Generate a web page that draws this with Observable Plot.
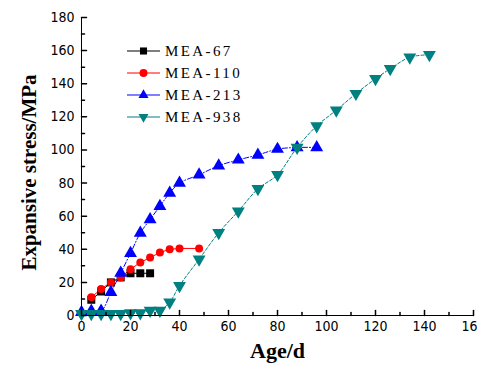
<!DOCTYPE html>
<html>
<head>
<meta charset="utf-8">
<script src="https://cdn.jsdelivr.net/npm/d3@7"></script>
<script src="https://cdn.jsdelivr.net/npm/@observablehq/plot@0.6"></script>
<style>
  html, body { margin: 0; padding: 0; background: #fff; }
  #wrap { position: relative; width: 477px; height: 371px; overflow: hidden; }
  #legend { position: absolute; left: 127px; top: 40px; font-family: "Liberation Serif", "Times New Roman", serif; font-size: 15px; letter-spacing: 2.4px; color: #000; }
  .row { display: flex; align-items: center; height: 22px; }
  .row svg { display: block; }
  .row span { margin-left: 5px; }
</style>
</head>
<body>
<div id="wrap"></div>
<script>
// ---- data ----
const seriesNames = ["MEA-67", "MEA-110", "MEA-213", "MEA-938"];
const seriesColors = ["#000000", "#ff0000", "#0000ff", "#008080"];
const seriesSymbols = ["square", "circle", "triangle", "triangle"];
const seriesRotate = [0, 0, 0, 180];
const seriesDash = [null, null, "5,2,1,2", "3,2"];

const days67 = [4, 8, 12, 16, 20, 24, 28];
const mea67 = [9.5, 14.5, 20, 23, 25.5, 25.5, 25.5];

const days110 = [4, 8, 12, 16, 20, 24, 28, 32, 36, 40, 48];
const mea110 = [11, 16, 20, 23, 28, 32, 35, 38, 40, 40.5, 40.5];

const days213 = [0, 4, 8, 12, 16, 20, 24, 28, 32, 36, 40, 48, 56, 64, 72, 80, 88, 96];
const mea213 = [2, 2.7, 2.7, 14, 25.7, 37.6, 49.8, 58, 66, 74, 80, 85, 90.5, 94, 97, 100.5, 101.5, 101.5];

const days938 = [0, 4, 8, 12, 16, 20, 24, 28, 32, 36, 40, 48, 56, 64, 72, 80, 88, 96, 104, 112, 120, 126, 134, 142];
const mea938 = [1, 1, 1, 1, 1, 1.5, 1.5, 3, 3, 8, 18, 34, 50, 63, 76.5, 85, 101.5, 114.5, 124, 134, 143, 149, 156, 157.5];

const xTicks = [0, 20, 40, 60, 80, 100, 120, 140, 160];
const xMinor = [10, 30, 50, 70, 90, 110, 130, 150];
const yTicks = [0, 20, 40, 60, 80, 100, 120, 140, 160, 180];
const yMinor = [10, 30, 50, 70, 90, 110, 130, 150, 170];
const xLabel = "Age/d";
const yLabel = "Expansive stress/MPa";

const allDays = [days67, days110, days213, days938];
const allVals = [mea67, mea110, mea213, mea938];
const data = [];
seriesNames.forEach((name, i) => {
  allDays[i].forEach((d, j) => data.push({series: name, idx: i, day: d, value: allVals[i][j]}));
});

const tickShape = {draw(ctx, l) { ctx.moveTo(0, 0); ctx.lineTo(0, -l); }};
const sizes = [4.5, 4, 4.8, 4.8];

const marks = [];
// lines
seriesNames.forEach((name, i) => {
  marks.push(Plot.line(data.filter(d => d.idx === i), {
    x: "day", y: "value", stroke: seriesColors[i], strokeWidth: 1,
    strokeDasharray: seriesDash[i], curve: i >= 2 ? "catmull-rom" : "linear"
  }));
});
// markers
seriesNames.forEach((name, i) => {
  marks.push(Plot.dot(data.filter(d => d.idx === i), {
    x: "day", y: "value", symbol: seriesSymbols[i], r: sizes[i],
    fill: seriesColors[i], stroke: "none", rotate: seriesRotate[i]
  }));
});
// axis lines
marks.push(Plot.ruleX([0], {stroke: "#000", strokeWidth: 1}));
marks.push(Plot.ruleY([0], {stroke: "#000", strokeWidth: 1}));
// inward ticks
marks.push(Plot.vector(xTicks, {x: d => d, y: 0, length: 5, rotate: 0, anchor: "start", shape: tickShape, stroke: "#000"}));
marks.push(Plot.vector(xMinor, {x: d => d, y: 0, length: 3, rotate: 0, anchor: "start", shape: tickShape, stroke: "#000"}));
marks.push(Plot.vector(yTicks, {x: 0, y: d => d, length: 5, rotate: 90, anchor: "start", shape: tickShape, stroke: "#000"}));
marks.push(Plot.vector(yMinor, {x: 0, y: d => d, length: 3, rotate: 90, anchor: "start", shape: tickShape, stroke: "#000"}));
// tick labels
marks.push(Plot.axisX({ticks: xTicks, tickSize: 0, tickPadding: 6, label: null, tickFormat: d => String(d), fontSize: 14}));
marks.push(Plot.axisY({ticks: yTicks, tickSize: 0, tickPadding: 7, label: null, tickFormat: d => String(d), fontSize: 14}));
// axis titles
marks.push(Plot.text([xLabel], {text: d => d, frameAnchor: "bottom", dy: 42, fontSize: 22, fontWeight: "bold", fontFamily: "Liberation Serif, serif"}));
marks.push(Plot.text([yLabel], {text: d => d, frameAnchor: "left", textAnchor: "middle", dx: -52, dy: 6, rotate: -90, fontSize: 21, fontWeight: "bold", fontFamily: "Liberation Serif, serif"}));

const chart = Plot.plot({
  width: 477, height: 371,
  marginLeft: 81, marginRight: 4, marginTop: 17, marginBottom: 56,
  x: {domain: [0, 160], axis: null},
  y: {domain: [0, 180], axis: null},
  style: {background: "#fff", color: "#000", fontFamily: "'Liberation Sans Narrow', 'DejaVu Sans Condensed', 'Liberation Sans', sans-serif", fontSize: "14px", overflow: "visible"},
  marks
});
const wrap = document.getElementById("wrap");
wrap.appendChild(chart);

// legend overlay
const legend = document.createElement("div");
legend.id = "legend";
seriesNames.forEach((name, i) => {
  const row = document.createElement("div");
  row.className = "row";
  const svg = d3.create("svg").attr("width", 33).attr("height", 22);
  svg.append("line").attr("x1", 0).attr("x2", 33).attr("y1", 11).attr("y2", 11)
    .attr("stroke", seriesColors[i]).attr("stroke-width", 1.2);
  const symMap = {square: d3.symbolSquare2, circle: d3.symbolCircle, triangle: d3.symbolTriangle2};
  const r = sizes[i];
  svg.append("path").attr("d", d3.symbol(symMap[seriesSymbols[i]], Math.PI * r * r)())
    .attr("transform", `translate(16.5,11) rotate(${seriesRotate[i]})`)
    .attr("fill", seriesColors[i]);
  row.appendChild(svg.node());
  const span = document.createElement("span");
  span.textContent = name;
  row.appendChild(span);
  legend.appendChild(row);
});
wrap.appendChild(legend);
</script>
</body>
</html>
